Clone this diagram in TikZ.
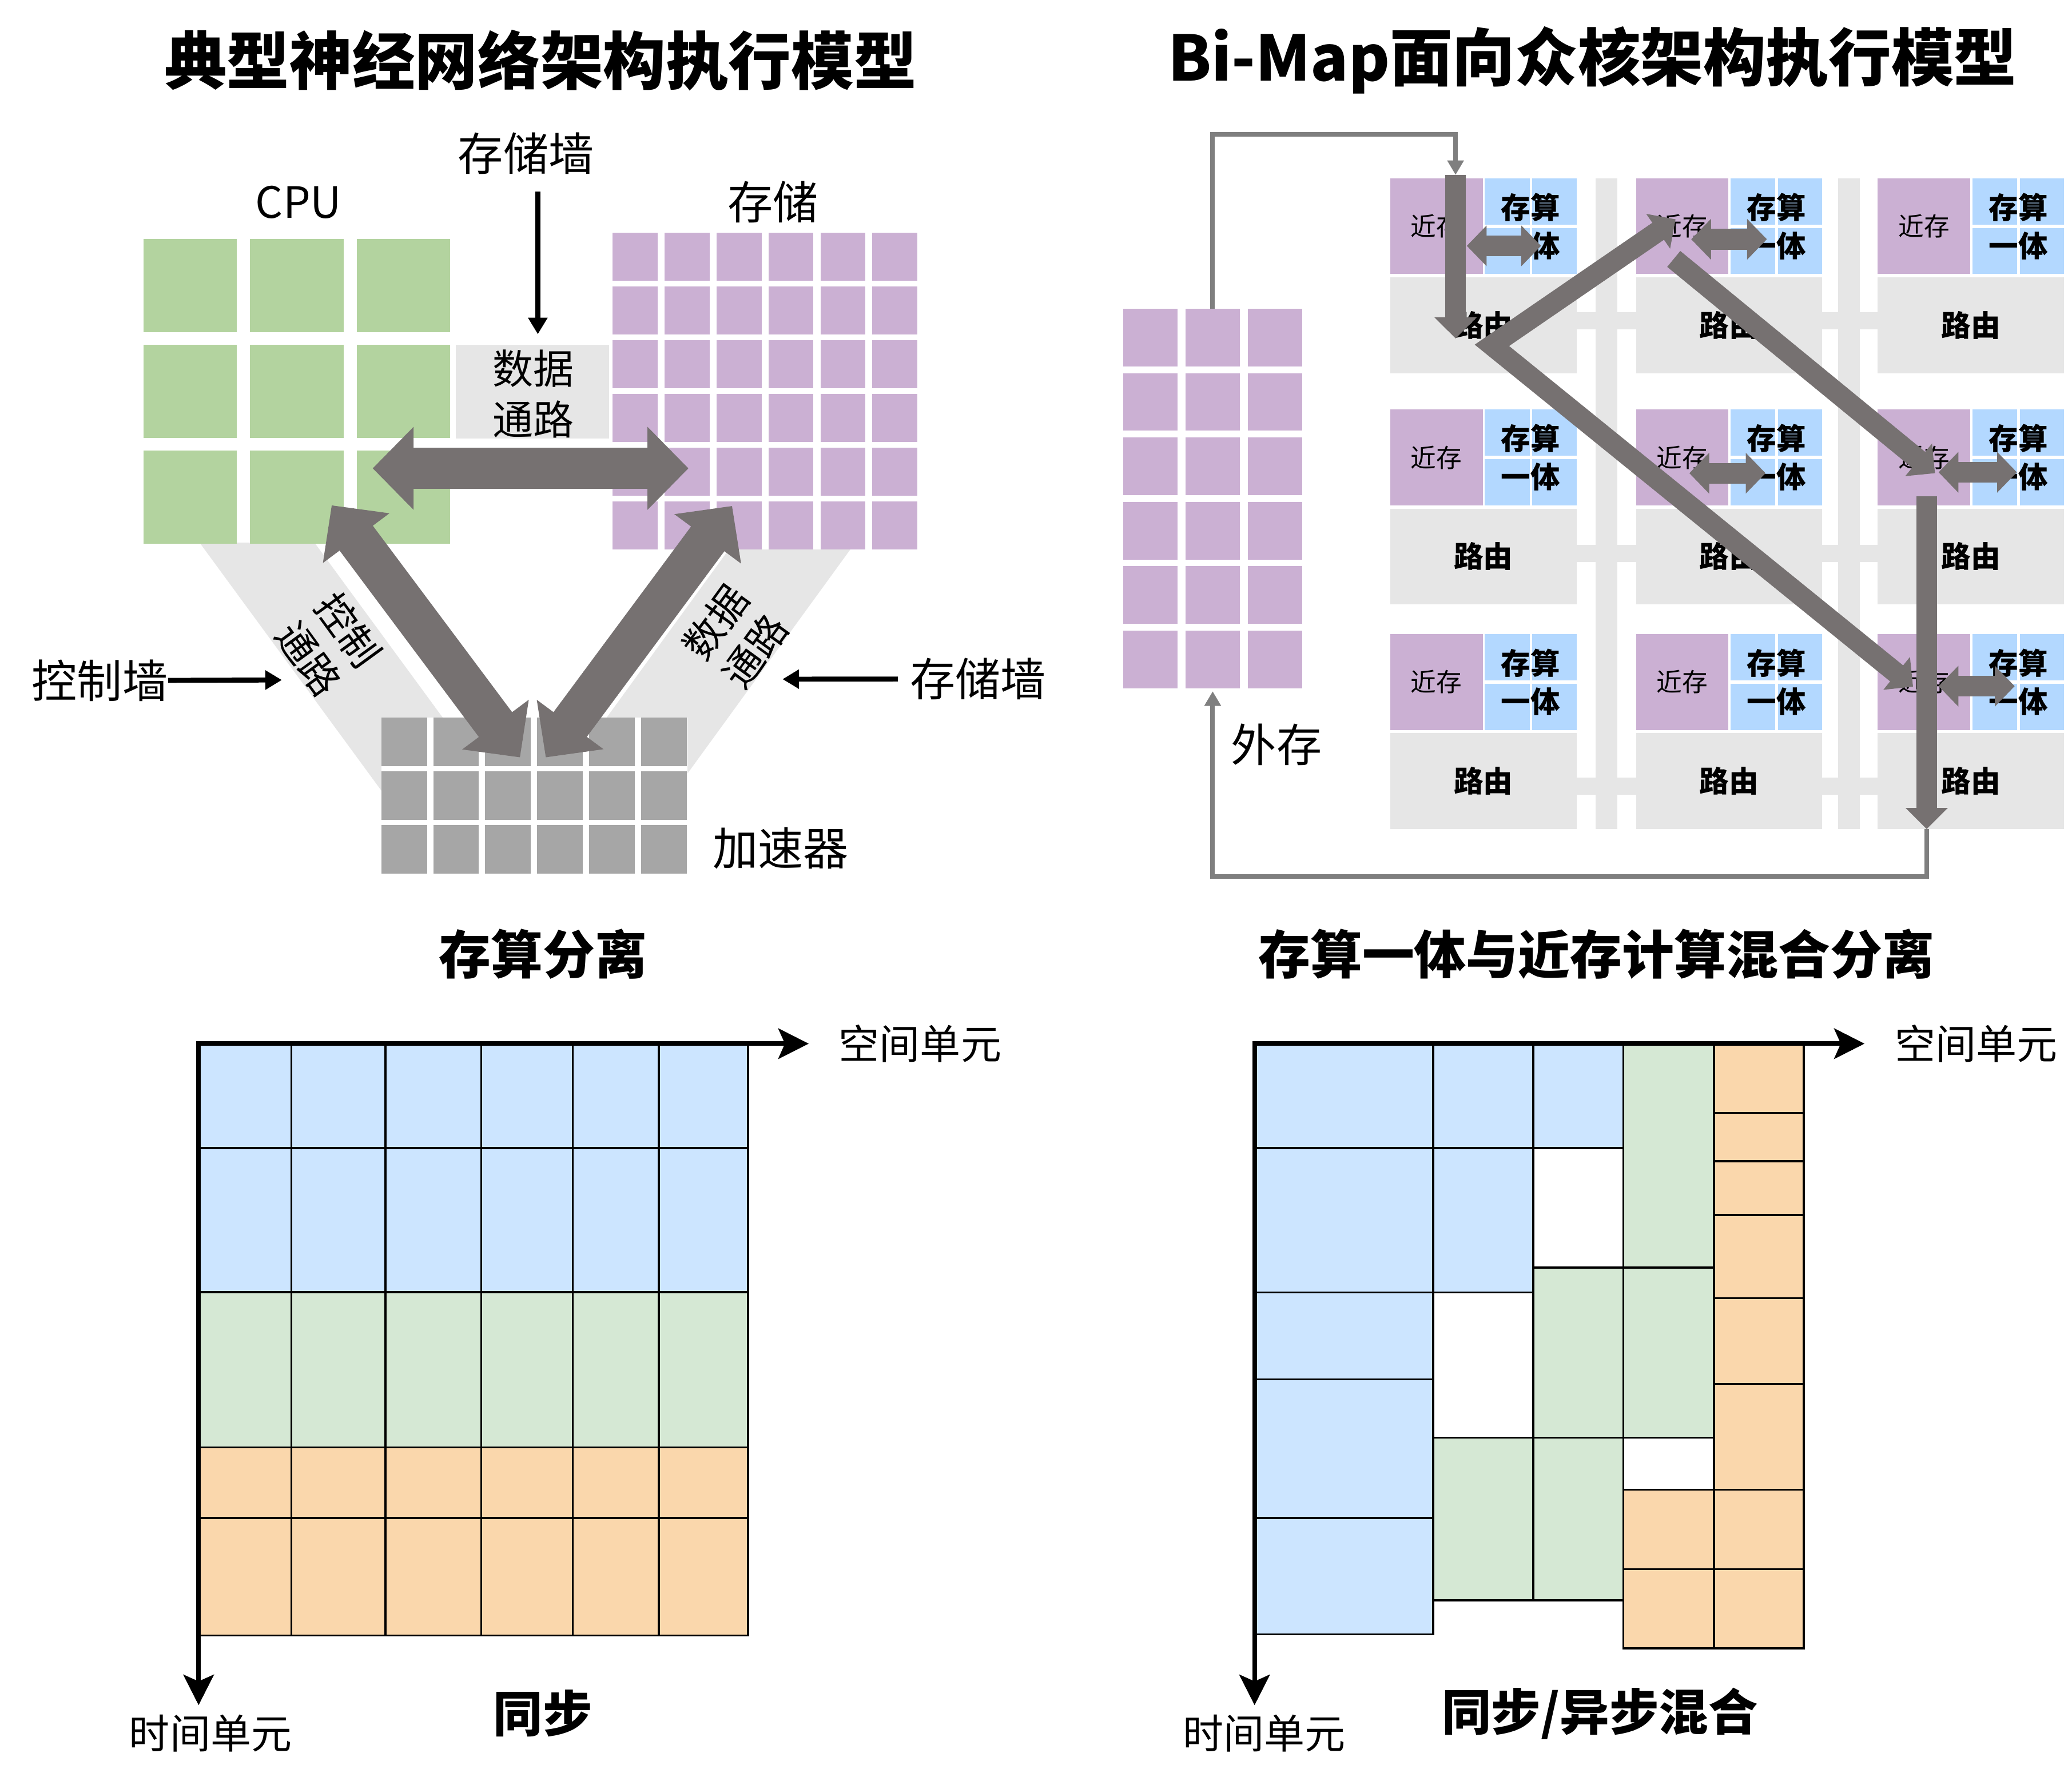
\documentclass[tikz,border=0pt]{standalone}
\usepackage{fontspec}
\setmainfont{Noto Sans CJK SC}
\usetikzlibrary{positioning, arrows.meta}

\definecolor{cpugreen}{HTML}{B3D39F}
\definecolor{mempurple}{HTML}{CBB0D3}
\definecolor{accgray}{HTML}{A6A6A6}
\definecolor{lightpath}{HTML}{E6E6E6}
\definecolor{flowgray}{HTML}{767171}
\definecolor{cimblue}{HTML}{B3D8FF}
\definecolor{loopgray}{HTML}{7F7F7F}
\definecolor{tblue}{HTML}{CCE5FF}
\definecolor{tgreen}{HTML}{D5E8D4}
\definecolor{torange}{HTML}{FAD7AC}

\begin{document}
\begin{tikzpicture}[
        x=0.02cm, y=-0.02cm,
        % testi
        title/.style={font=\fontsize{27}{30}\selectfont\bfseries, inner sep=0pt},
        subtitle/.style={font=\fontsize{22.4}{26}\selectfont\bfseries, inner sep=0pt},
        txt/.style={font=\fontsize{19.5}{23}\selectfont, inner sep=0pt},
        pathtxt/.style={font=\fontsize{17}{21}\selectfont, inner sep=0pt, align=center},
        axistxt/.style={font=\fontsize{17.5}{20}\selectfont, inner sep=0pt},
        nmtxt/.style={font=\fontsize{11}{13}\selectfont, inner sep=0pt},
        cimtxt/.style={font=\fontsize{12.7}{16.5}\selectfont\bfseries, inner sep=0pt, align=center},
        rttxt/.style={font=\fontsize{12.7}{15}\selectfont\bfseries, inner sep=0pt},
        % frecce
        wall/.style={line width=0.075cm, -{Triangle[length=0.25cm, width=0.28cm]}},
        flow/.style={flowgray, line width=0.628cm, {Triangle[length=0.62cm, width=1.22cm]}-{Triangle[length=0.62cm, width=1.22cm]}},
        hop/.style={flowgray, line width=0.312cm, -{Triangle[length=0.32cm, width=0.62cm]}},
        hopboth/.style={hop, {Triangle[length=0.32cm, width=0.62cm]}-{Triangle[length=0.32cm, width=0.62cm]}},
        xchg/.style={flowgray, line width=0.314cm, {Triangle[length=0.30cm, width=0.60cm]}-{Triangle[length=0.30cm, width=0.60cm]}},
        backline/.style={loopgray, line width=0.07cm, -{Triangle[length=0.22cm, width=0.24cm]}},
        axisline/.style={line width=0.07cm, line join=miter, {Stealth[length=0.46cm, width=0.46cm, inset=0.1cm]}-{Stealth[length=0.46cm, width=0.46cm, inset=0.1cm]}},
        cell/.style={draw=black, line width=0.03cm}
    ]

    \useasboundingbox (0,0) rectangle (1568,1342);
    \fill[white] (0,0) rectangle (1568,1342);

    % Titoli
    \node[title] (t1) at (409,45.5) {典型神经网络架构执行模型};
    \node[title] (t2) at (1205,45.5) {Bi-Map面向众核架构执行模型};
    \node[subtitle] (t3) at (410.8,722) {存算分离};
    \node[subtitle] (t4) at (1208,722) {存算一体与近存计算混合分离};

    % ---- modello tipico ----
    % canali sotto i blocchi
    \fill[lightpath] (151.1,410.8) -- (238,410.8) -- (380.3,605) -- (293.4,605) -- cycle;
    \fill[lightpath] (551.5,416) -- (643.4,416) -- (506.1,605) -- (414.2,605) -- cycle;

    % CPU
    \foreach \i in {0,1,2}
        \foreach \j in {0,1,2}
            \fill[cpugreen] (108.5+80.7*\i,181+80*\j) rectangle ++(70.7,70.5);
    \node[txt, font=\fontsize{18.6}{22}\selectfont] (cpu) at (226,153) {CPU};

    % memoria
    \foreach \i in {0,...,5}
        \foreach \j in {0,...,5}
            \fill[mempurple] (463.7+39.3*\i,176+40.7*\j) rectangle ++(34,36.5);
    \node[txt] (mem) at (585,153) {存储};

    % acceleratore
    \fill[white] (288.6,543.3) rectangle (520.1,661);
    \foreach \i in {0,...,5}
        \foreach \j in {0,1,2}
            \fill[accgray] (288.6+39.3*\i,543.3+40.6*\j) rectangle ++(34.5,36.6);
    \node[txt] (acc) at (590.7,642.2) {加速器};

    % bus dati tra CPU e memoria
    \fill[lightpath] (345,261) rectangle (461,332);
    \node[pathtxt, font=\fontsize{17.5}{22}\selectfont] (bus) at (403.5,298) {数据\\通路};
    \node[pathtxt, rotate=-54] (ctrl) at (248.6,487.7) {控制\\通路};
    \node[pathtxt, rotate=54] (data) at (556.4,481.9) {数据\\通路};

    % muri
    \node[txt] (wtop) at (398,116) {存储墙};
    \node[txt] (wleft) at (75.5,515) {控制墙};
    \node[txt] (wright) at (740,514) {存储墙};
    \coordinate (wtopa) at (407,145);
    \coordinate (wtopb) at (407,253);
    \coordinate (wleftb) at (213.3,514.7);
    \coordinate (wrightb) at (592.2,514.1);
    \draw[wall] (wtopa) -- (wtopb);
    \draw[wall] (wleft.east) -- (wleftb);
    \draw[wall] ([xshift=-5pt]wright.west) -- (wrightb);

    % frecce grandi
    \coordinate (hl) at (282,354.5);
    \coordinate (hr) at (521,354.5);
    \coordinate (dl1) at (251,382.5);
    \coordinate (dl2) at (393.5,573.3);
    \coordinate (dr1) at (554,383);
    \coordinate (dr2) at (413,573.3);
    \draw[flow] (hl) -- (hr);
    \draw[flow] (dl1) -- (dl2);
    \draw[flow] (dr1) -- (dr2);

    % ---- modello Bi-Map ----
    % memoria esterna
    \foreach \i in {0,1,2}
        \foreach \j in {0,...,5}
            \fill[mempurple] (850+47.2*\i,233.8+48.7*\j) rectangle ++(41,43.6);
    \node[txt] (ext) at (966,563.7) {外存};

    % rete
    \fill[lightpath] (1207.3,135) rectangle (1223.9,627.5);
    \fill[lightpath] (1391,135) rectangle (1407.4,627.5);
    \foreach \yc in {243,419,595}
        \fill[lightpath] (1192,\yc-6.5) rectangle (1422,\yc+6.5);

    % core
    \foreach \ci/\tx in {1/1052,2/1238,3/1421}
        \foreach \ri/\ty in {1/135,2/310,3/480} {
            \fill[mempurple] (\tx,\ty) rectangle ++(70,72.5);
            \fill[cimblue] (\tx+71.5,\ty) rectangle ++(34,35);
            \fill[cimblue] (\tx+107.5,\ty) rectangle ++(33.5,35);
            \fill[cimblue] (\tx+71.5,\ty+37.5) rectangle ++(34,35);
            \fill[cimblue] (\tx+107.5,\ty+37.5) rectangle ++(33.5,35);
            \fill[lightpath] (\tx,\ty+75) rectangle ++(141,72.5);
            \node[nmtxt] (nm\ci\ri) at (\tx+35,\ty+36.25) {近存};
            \node[cimtxt] (cim\ci\ri) at (\tx+106.3,\ty+36.25) {存算\\一体};
            \node[rttxt] (rt\ci\ri) at (\tx+70.5,\ty+111.25) {路由};
        }

    % anello verso la memoria esterna
    \coordinate (extt) at (917.7,233.8);
    \coordinate (extb) at (917.7,523.3);
    \coordinate (inp) at (1101.5,132.4);
    \coordinate (outp) at (1458,627.6);
    \draw[backline] (extt) |- (1101.5,101.7) -- (inp);
    \draw[backline] (outp) -- (1458,663.5) -| (extb);

    % percorso nei core
    \draw[hop] (inp) -- (1101.5,256.2);
    \draw[hopboth, line join=miter] (1268,166) -- (1129,261.4) -- (1447.7,519.8);
    \draw[hop] (1266.6,196) -- (1464.3,358.2);
    \draw[hop] (1458,375.8) -- (outp);

    % scambi locali
    \draw[xchg] (1110,186.1) -- (1166.2,186.1);
    \draw[xchg] (1279.8,181.1) -- (1337.1,181.1);
    \draw[xchg] (1278.4,358.2) -- (1336.1,358.2);
    \draw[xchg] (1467,357.5) -- (1526.3,357.5);
    \draw[xchg] (1467,519.4) -- (1524.6,519.4);

    % ---- griglia sincrona ----
    \foreach \ya/\yb/\fc in {790/869/tblue, 869/978/tblue, 978/1095.5/tgreen, 1095.5/1149/torange, 1149/1238/torange}
        \foreach \xa/\xb in {150.3/220.4, 220.4/291.6, 291.6/364.2, 364.2/433.4, 433.4/498.5, 498.5/566.1}
            \filldraw[cell, fill=\fc] (\xa,\ya) rectangle (\xb,\yb);
    \coordinate (o1) at (150.3,790);
    \coordinate (x1) at (612,790);
    \coordinate (y1) at (150.3,1290.7);
    \draw[axisline] (x1) -- (o1) -- (y1);
    \node[axistxt, right=0.45cm of x1] (sp1) {空间单元};
    \node[axistxt] (tm1) at (159.3,1312) {时间单元};
    \node[subtitle, font=\fontsize{21.3}{24}\selectfont\bfseries] (sync1) at (410.8,1297) {同步};

    % ---- griglia mista ----
    \foreach \xa/\xb/\ya/\yb/\fc in {
            949.4/1084.6/790/869/tblue, 949.4/1084.6/869/978.4/tblue,
            949.4/1084.6/978.4/1044/tblue, 949.4/1084.6/1044/1149/tblue,
            949.4/1084.6/1149/1237/tblue,
            1084.6/1160.3/790/869/tblue, 1084.6/1160.3/869/978.4/tblue,
            1084.6/1160.3/1088.2/1211.4/tgreen,
            1160.3/1228.4/790/869/tblue, 1160.3/1228.4/959.5/1088.2/tgreen,
            1160.3/1228.4/1088.2/1211.4/tgreen,
            1228.4/1297/790/959.5/tgreen, 1228.4/1297/959.5/1088.2/tgreen,
            1228.4/1297/1127.7/1187.8/torange, 1228.4/1297/1187.8/1247.8/torange,
            1297/1365.1/790/842.4/torange, 1297/1365.1/842.4/879/torange,
            1297/1365.1/879/919.6/torange, 1297/1365.1/919.6/982.7/torange,
            1297/1365.1/982.7/1047.5/torange, 1297/1365.1/1047.5/1127.7/torange,
            1297/1365.1/1127.7/1187.8/torange, 1297/1365.1/1187.8/1247.8/torange}
        \filldraw[cell, fill=\fc] (\xa,\ya) rectangle (\xb,\yb);
    \coordinate (o2) at (949.4,790);
    \coordinate (x2) at (1411,790);
    \coordinate (y2) at (949.4,1290.7);
    \draw[axisline] (x2) -- (o2) -- (y2);
    \node[axistxt, right=0.45cm of x2] (sp2) {空间单元};
    \node[axistxt] (tm2) at (956.6,1312) {时间单元};
    \node[subtitle, font=\fontsize{21.3}{24}\selectfont\bfseries] (sync2) at (1210.7,1297) {同步/异步混合};

\end{tikzpicture}
\end{document}
